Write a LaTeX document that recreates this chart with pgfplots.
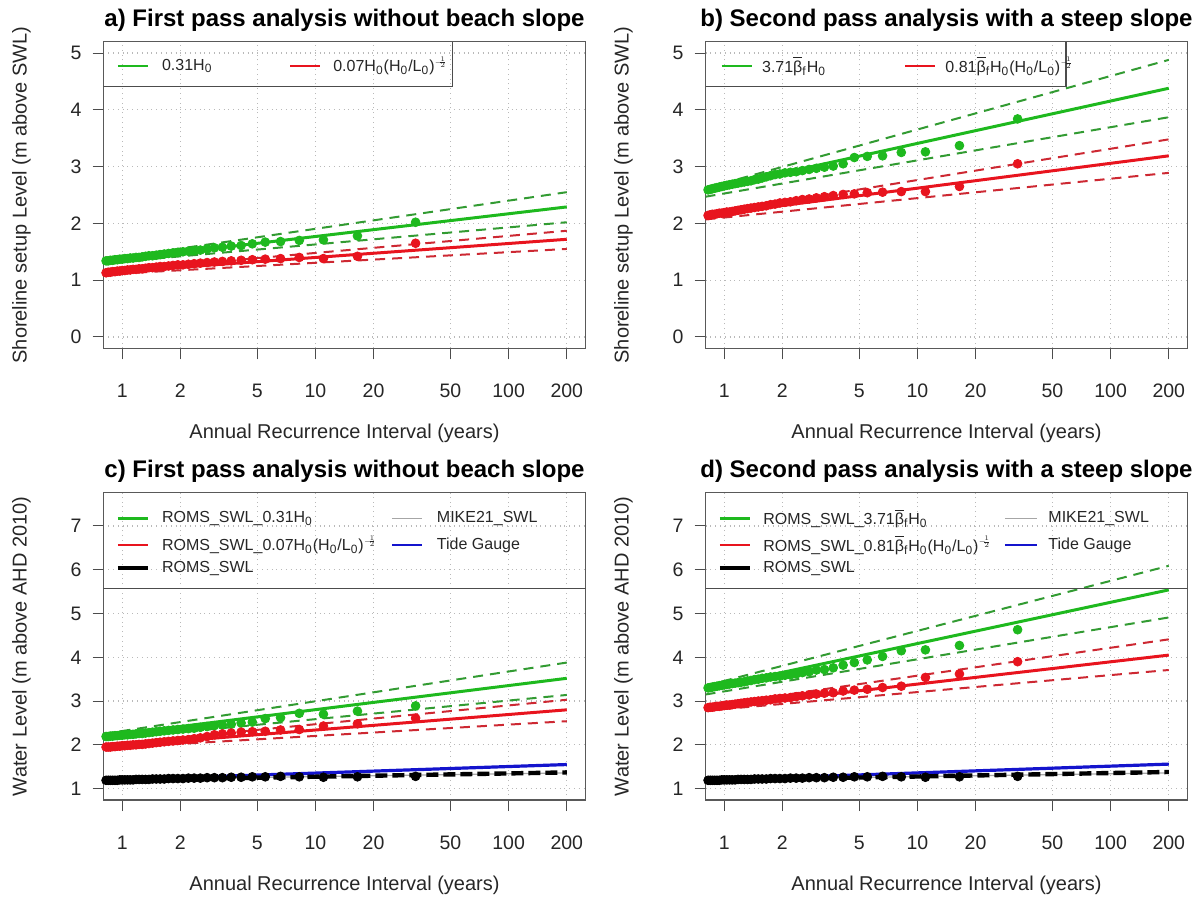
\documentclass[border=0pt]{standalone}
\usepackage{pgfplots}
\pgfplotsset{compat=1.18}
\usepackage{pgfplotstable}
\usepackage{graphicx}
\usepackage{fontspec}
\setmainfont{Liberation Sans}

\definecolor{cg}{RGB}{30,185,30}
\definecolor{cgd}{RGB}{50,155,50}
\definecolor{cr}{RGB}{232,20,30}
\definecolor{crd}{RGB}{205,40,50}
\definecolor{cb}{RGB}{20,20,205}

\newcommand{\legfont}{\fontsize{8}{9.5}\selectfont}
\newcommand{\Hz}{H\textsubscript{0}}
\newcommand{\Lz}{L\textsubscript{0}}
\newcommand{\bbar}{$\overline{\mbox{β}}$\textsubscript{f}}
\newcommand{\expo}{\raisebox{0.9ex}{\scalebox{0.7}{$\nulldelimiterspace=0pt\scriptscriptstyle-\!\frac{1}{2}$}}}

% panel a: T = ARI, g = 0.31H0, r = 0.07H0(H0/L0)^-1/2
\pgfplotstableread{
T g r
33 2.02 1.65
16.5 1.78 1.42
11 1.71 1.38
8.25 1.70 1.40
6.6 1.68 1.38
5.5 1.67 1.37
4.714 1.64 1.36
4.125 1.61 1.35
3.667 1.60 1.34
3.3 1.58 1.33
3.0 1.57 1.32
2.75 1.55 1.31
2.538 1.53 1.30
2.357 1.52 1.29
2.2 1.51 1.28
2.0625 1.50 1.27
1.941 1.49 1.27
1.833 1.48 1.26
1.737 1.47 1.25
1.65 1.46 1.24
1.571 1.45 1.24
1.5 1.44 1.23
1.435 1.43 1.22
1.375 1.43 1.22
1.32 1.42 1.21
1.269 1.41 1.20
1.222 1.40 1.20
1.179 1.40 1.19
1.138 1.39 1.19
1.1 1.39 1.18
1.065 1.38 1.18
1.031 1.38 1.17
1.0 1.37 1.17
0.971 1.37 1.16
0.943 1.36 1.16
0.917 1.36 1.15
0.892 1.35 1.15
0.868 1.35 1.14
0.846 1.34 1.14
0.825 1.34 1.13
}\tabA

\pgfplotstableread{
T g r
33 3.84 3.05
16.5 3.37 2.65
11 3.26 2.56
8.25 3.25 2.56
6.6 3.19 2.55
5.5 3.18 2.54
4.714 3.16 2.52
4.125 3.05 2.51
3.667 3.01 2.49
3.3 2.99 2.47
3.0 2.97 2.45
2.75 2.95 2.43
2.538 2.93 2.42
2.357 2.91 2.40
2.2 2.90 2.38
2.0625 2.89 2.37
1.941 2.87 2.36
1.833 2.86 2.34
1.737 2.84 2.33
1.65 2.82 2.31
1.571 2.80 2.30
1.5 2.78 2.29
1.435 2.77 2.28
1.375 2.75 2.27
1.32 2.74 2.26
1.269 2.73 2.25
1.222 2.72 2.24
1.179 2.71 2.23
1.138 2.70 2.22
1.1 2.69 2.21
1.065 2.68 2.20
1.031 2.67 2.20
1.0 2.66 2.19
0.971 2.65 2.18
0.943 2.64 2.18
0.917 2.63 2.17
0.892 2.62 2.16
0.868 2.61 2.16
0.846 2.60 2.15
0.825 2.59 2.14
}\tabB

\pgfplotstableread{
T g r k
33 2.89 2.61 1.28
16.5 2.77 2.48 1.27
11 2.70 2.43 1.26
8.25 2.72 2.35 1.27
6.6 2.62 2.34 1.28
5.5 2.60 2.31 1.27
4.714 2.52 2.30 1.27
4.125 2.50 2.29 1.26
3.667 2.47 2.27 1.26
3.3 2.45 2.25 1.25
3.0 2.44 2.23 1.25
2.75 2.42 2.19 1.25
2.538 2.40 2.16 1.24
2.357 2.38 2.14 1.24
2.2 2.37 2.12 1.24
2.0625 2.36 2.11 1.23
1.941 2.35 2.10 1.23
1.833 2.34 2.09 1.23
1.737 2.33 2.08 1.23
1.65 2.32 2.07 1.22
1.571 2.31 2.06 1.22
1.5 2.30 2.05 1.22
1.435 2.29 2.04 1.22
1.375 2.28 2.03 1.21
1.32 2.27 2.02 1.21
1.269 2.26 2.01 1.21
1.222 2.26 2.01 1.21
1.179 2.25 2.00 1.21
1.138 2.24 2.00 1.20
1.1 2.24 1.99 1.20
1.065 2.23 1.99 1.20
1.031 2.23 1.98 1.20
1.0 2.22 1.98 1.20
0.971 2.22 1.97 1.20
0.943 2.21 1.97 1.19
0.917 2.21 1.96 1.19
0.892 2.20 1.96 1.19
0.868 2.20 1.95 1.19
0.846 2.19 1.95 1.19
0.825 2.19 1.95 1.19
}\tabC

\pgfplotstableread{
T g r k
33 4.63 3.90 1.28
16.5 4.27 3.62 1.27
11 4.17 3.54 1.26
8.25 4.15 3.34 1.27
6.6 4.02 3.31 1.28
5.5 3.94 3.27 1.27
4.714 3.88 3.25 1.27
4.125 3.82 3.23 1.26
3.667 3.76 3.19 1.26
3.3 3.72 3.18 1.25
3.0 3.71 3.16 1.25
2.75 3.67 3.14 1.25
2.538 3.65 3.12 1.24
2.357 3.62 3.10 1.24
2.2 3.60 3.08 1.24
2.0625 3.59 3.07 1.23
1.941 3.57 3.06 1.23
1.833 3.56 3.05 1.23
1.737 3.55 3.03 1.23
1.65 3.53 3.02 1.22
1.571 3.52 3.01 1.22
1.5 3.50 3.00 1.22
1.435 3.49 2.99 1.22
1.375 3.47 2.98 1.21
1.32 3.46 2.97 1.21
1.269 3.44 2.96 1.21
1.222 3.43 2.95 1.21
1.179 3.42 2.94 1.21
1.138 3.41 2.93 1.20
1.1 3.40 2.92 1.20
1.065 3.39 2.91 1.20
1.031 3.38 2.91 1.20
1.0 3.37 2.90 1.20
0.971 3.36 2.89 1.20
0.943 3.35 2.88 1.19
0.917 3.34 2.88 1.19
0.892 3.33 2.87 1.19
0.868 3.32 2.86 1.19
0.846 3.31 2.86 1.19
0.825 3.30 2.85 1.19
}\tabD

\pgfplotsset{
  every axis/.append style={
    scale only axis, width=241pt, height=153.3pt,
    xmin=0.8, xmax=250,
    xtick={1,2,5,10,20,50,100,200},
    xticklabels={1,2,5,10,20,50,100,200},
    xminorticks=false, yminorticks=false,
    tick align=outside, xtick pos=left, ytick pos=left,
    major tick length=5.5pt,
    tick style={black!70, line width=0.5pt},
    axis line style={black!65, line width=0.6pt},
    grid=major, major grid style={gray!55, dotted, line width=0.6pt},
    tick label style={font=\fontsize{9.75}{11}\selectfont, black!85},
    label style={font=\fontsize{10}{12}\selectfont, black!85},
    xticklabel style={yshift=-9pt},
    yticklabel style={xshift=-2pt, /pgf/number format/assume math mode=true},
    xlabel={Annual Recurrence Interval (years)},
    xlabel style={at={(axis description cs:0.5,-0.277)}, anchor=center},
    ylabel style={at={(axis description cs:-0.17,0.5)}, anchor=center},
    title style={at={(axis description cs:0.5,1.030)}, anchor=center, font=\bfseries\fontsize{12}{14}\selectfont},
  },
  myfit/.style={line width=1.5pt},
  myci/.style={line width=1pt, dash pattern=on 5pt off 3.5pt},
  mypts/.style={only marks, mark=*, mark size=2.2pt},
}

\begin{document}
\begin{tikzpicture}
\path[use as bounding box] (0,0) rectangle (602pt,450pt);

% ---------------- a ----------------
\begin{semilogxaxis}[at={(51.75pt,275.85pt)}, anchor=south west,
  ymin=-0.2, ymax=5.2, ytick={0,1,2,3,4,5},
  ylabel={Shoreline setup Level (m above SWL)},
  title={a) First pass analysis without beach slope}]
\addplot[mypts, cg] table[x=T,y=g]{\tabA};
\addplot[mypts, cr] table[x=T,y=r]{\tabA};
\addplot[myfit, cg] coordinates {(0.8,1.33) (200,2.29)};
\addplot[myci, cgd] coordinates {(0.8,1.36) (200,2.55)};
\addplot[myci, cgd] coordinates {(0.8,1.30) (200,2.02)};
\addplot[myfit, cr] coordinates {(0.8,1.13) (200,1.72)};
\addplot[myci, crd] coordinates {(0.8,1.15) (200,1.87)};
\addplot[myci, crd] coordinates {(0.8,1.10) (200,1.55)};
\draw[black!70, line width=0.6pt] (rel axis cs:0,0.8532) -- (rel axis cs:0.7245,0.8532) -- (rel axis cs:0.7245,1);
\draw[cg, line width=1.2pt] (rel axis cs:0.030,0.9207) -- (rel axis cs:0.0923,0.9207);
\node[anchor=west, inner sep=0pt, font=\legfont, black!85] at (rel axis cs:0.1207,0.9207) {0.31\Hz};
\draw[cr, line width=1.2pt] (rel axis cs:0.387,0.9207) -- (rel axis cs:0.449,0.9207);
\node[anchor=west, inner sep=0pt, font=\legfont, black!85] at (rel axis cs:0.476,0.9207) {0.07\Hz(\Hz/\Lz)\expo};
\end{semilogxaxis}

% ---------------- b ----------------
\begin{semilogxaxis}[at={(352.75pt,275.85pt)}, anchor=south west,
  ymin=-0.2, ymax=5.2, ytick={0,1,2,3,4,5},
  ylabel={Shoreline setup Level (m above SWL)},
  title={b) Second pass analysis with a steep slope}]
\addplot[mypts, cg] table[x=T,y=g]{\tabB};
\addplot[mypts, cr] table[x=T,y=r]{\tabB};
\addplot[myfit, cg] coordinates {(0.8,2.59) (200,4.38)};
\addplot[myci, cgd] coordinates {(0.8,2.62) (200,4.88)};
\addplot[myci, cgd] coordinates {(0.8,2.47) (200,3.87)};
\addplot[myfit, cr] coordinates {(0.8,2.14) (200,3.19)};
\addplot[myci, crd] coordinates {(0.8,2.16) (200,3.48)};
\addplot[myci, crd] coordinates {(0.8,2.07) (200,2.89)};
\draw[black!70, line width=0.6pt] (rel axis cs:0,0.8532) -- (rel axis cs:0.748,0.8532) -- (rel axis cs:0.748,1);
\draw[cg, line width=1.2pt] (rel axis cs:0.0336,0.9207) -- (rel axis cs:0.0959,0.9207);
\node[anchor=west, inner sep=0pt, font=\legfont, black!85] at (rel axis cs:0.1166,0.9207) {3.71\bbar\Hz};
\draw[cr, line width=1.2pt] (rel axis cs:0.414,0.9207) -- (rel axis cs:0.476,0.9207);
\node[anchor=west, inner sep=0pt, font=\legfont, black!85] at (rel axis cs:0.497,0.9207) {0.81\bbar\Hz(\Hz/\Lz)\expo};
\end{semilogxaxis}

% ---------------- c ----------------
\begin{semilogxaxis}[at={(51.75pt,50pt)}, anchor=south west, height=153.65pt,
  ymin=0.74, ymax=7.76, ytick={1,2,3,4,5,6,7},
  ylabel={Water Level (m above AHD 2010)},
  title={c) First pass analysis without beach slope}]
\addplot[mypts, cg] table[x=T,y=g]{\tabC};
\addplot[mypts, cr] table[x=T,y=r]{\tabC};
\addplot[myfit, cg] coordinates {(0.8,2.20) (200,3.52)};
\addplot[myci, cgd] coordinates {(0.8,2.25) (200,3.88)};
\addplot[myci, cgd] coordinates {(0.8,2.12) (200,3.14)};
\addplot[myfit, cr] coordinates {(0.8,1.95) (200,2.80)};
\addplot[myci, crd] coordinates {(0.8,2.00) (200,3.03)};
\addplot[myci, crd] coordinates {(0.8,1.92) (200,2.54)};
\addplot[gray!70, line width=0.6pt] coordinates {(0.8,1.20) (200,1.36)};
\addplot[mypts, black] table[x=T,y=k]{\tabC};
\addplot[cb, line width=1.6pt] coordinates {(0.8,1.19) (200,1.55)};
\addplot[black, line width=2.2pt, dash pattern=on 6pt off 2.5pt] coordinates {(0.8,1.19) (200,1.37)};
\draw[black!70, line width=0.6pt] (rel axis cs:0,0.689) -- (rel axis cs:1,0.689);
\draw[cg, line width=1.2pt] (rel axis cs:0.030,0.9167) -- (rel axis cs:0.0923,0.9167);
\node[anchor=west, inner sep=0pt, font=\legfont, black!85] at (rel axis cs:0.1207,0.9167) {ROMS\_SWL\_0.31\Hz};
\draw[cr, line width=1.2pt] (rel axis cs:0.030,0.8298) -- (rel axis cs:0.0923,0.8298);
\node[anchor=west, inner sep=0pt, font=\legfont, black!85] at (rel axis cs:0.1207,0.8298) {ROMS\_SWL\_0.07\Hz(\Hz/\Lz)\expo};
\draw[black, line width=2pt] (rel axis cs:0.030,0.754) -- (rel axis cs:0.0923,0.754);
\node[anchor=west, inner sep=0pt, font=\legfont, black!85] at (rel axis cs:0.1207,0.754) {ROMS\_SWL};
\draw[gray!70, line width=0.6pt] (rel axis cs:0.5985,0.9167) -- (rel axis cs:0.6608,0.9167);
\node[anchor=west, inner sep=0pt, font=\legfont, black!85] at (rel axis cs:0.691,0.9167) {MIKE21\_SWL};
\draw[cb, line width=1.2pt] (rel axis cs:0.5985,0.8298) -- (rel axis cs:0.6608,0.8298);
\node[anchor=west, inner sep=0pt, font=\legfont, black!85] at (rel axis cs:0.691,0.8298) {Tide Gauge};
\end{semilogxaxis}

% ---------------- d ----------------
\begin{semilogxaxis}[at={(352.75pt,50pt)}, anchor=south west, height=153.65pt,
  ymin=0.74, ymax=7.76, ytick={1,2,3,4,5,6,7},
  ylabel={Water Level (m above AHD 2010)},
  title={d) Second pass analysis with a steep slope}]
\addplot[mypts, cg] table[x=T,y=g]{\tabD};
\addplot[mypts, cr] table[x=T,y=r]{\tabD};
\addplot[myfit, cg] coordinates {(0.8,3.28) (200,5.54)};
\addplot[myci, cgd] coordinates {(0.8,3.35) (200,6.09)};
\addplot[myci, cgd] coordinates {(0.8,3.15) (200,4.91)};
\addplot[myfit, cr] coordinates {(0.8,2.83) (200,4.05)};
\addplot[myci, crd] coordinates {(0.8,2.88) (200,4.41)};
\addplot[myci, crd] coordinates {(0.8,2.78) (200,3.71)};
\addplot[gray!70, line width=0.6pt] coordinates {(0.8,1.20) (200,1.36)};
\addplot[mypts, black] table[x=T,y=k]{\tabD};
\addplot[cb, line width=1.6pt] coordinates {(0.8,1.19) (200,1.56)};
\addplot[black, line width=2.2pt, dash pattern=on 6pt off 2.5pt] coordinates {(0.8,1.19) (200,1.38)};
\draw[black!70, line width=0.6pt] (rel axis cs:0,0.689) -- (rel axis cs:1,0.689);
\draw[cg, line width=1.2pt] (rel axis cs:0.030,0.9167) -- (rel axis cs:0.0923,0.9167);
\node[anchor=west, inner sep=0pt, font=\legfont, black!85] at (rel axis cs:0.119,0.9167) {ROMS\_SWL\_3.71\bbar\Hz};
\draw[cr, line width=1.2pt] (rel axis cs:0.030,0.8298) -- (rel axis cs:0.0923,0.8298);
\node[anchor=west, inner sep=0pt, font=\legfont, black!85] at (rel axis cs:0.119,0.8298) {ROMS\_SWL\_0.81\bbar\Hz(\Hz/\Lz)\expo};
\draw[black, line width=2pt] (rel axis cs:0.030,0.754) -- (rel axis cs:0.0923,0.754);
\node[anchor=west, inner sep=0pt, font=\legfont, black!85] at (rel axis cs:0.119,0.754) {ROMS\_SWL};
\draw[gray!70, line width=0.6pt] (rel axis cs:0.621,0.9167) -- (rel axis cs:0.688,0.9167);
\node[anchor=west, inner sep=0pt, font=\legfont, black!85] at (rel axis cs:0.7106,0.9167) {MIKE21\_SWL};
\draw[cb, line width=1.2pt] (rel axis cs:0.621,0.8298) -- (rel axis cs:0.688,0.8298);
\node[anchor=west, inner sep=0pt, font=\legfont, black!85] at (rel axis cs:0.7106,0.8298) {Tide Gauge};
\end{semilogxaxis}
\end{tikzpicture}
\end{document}
